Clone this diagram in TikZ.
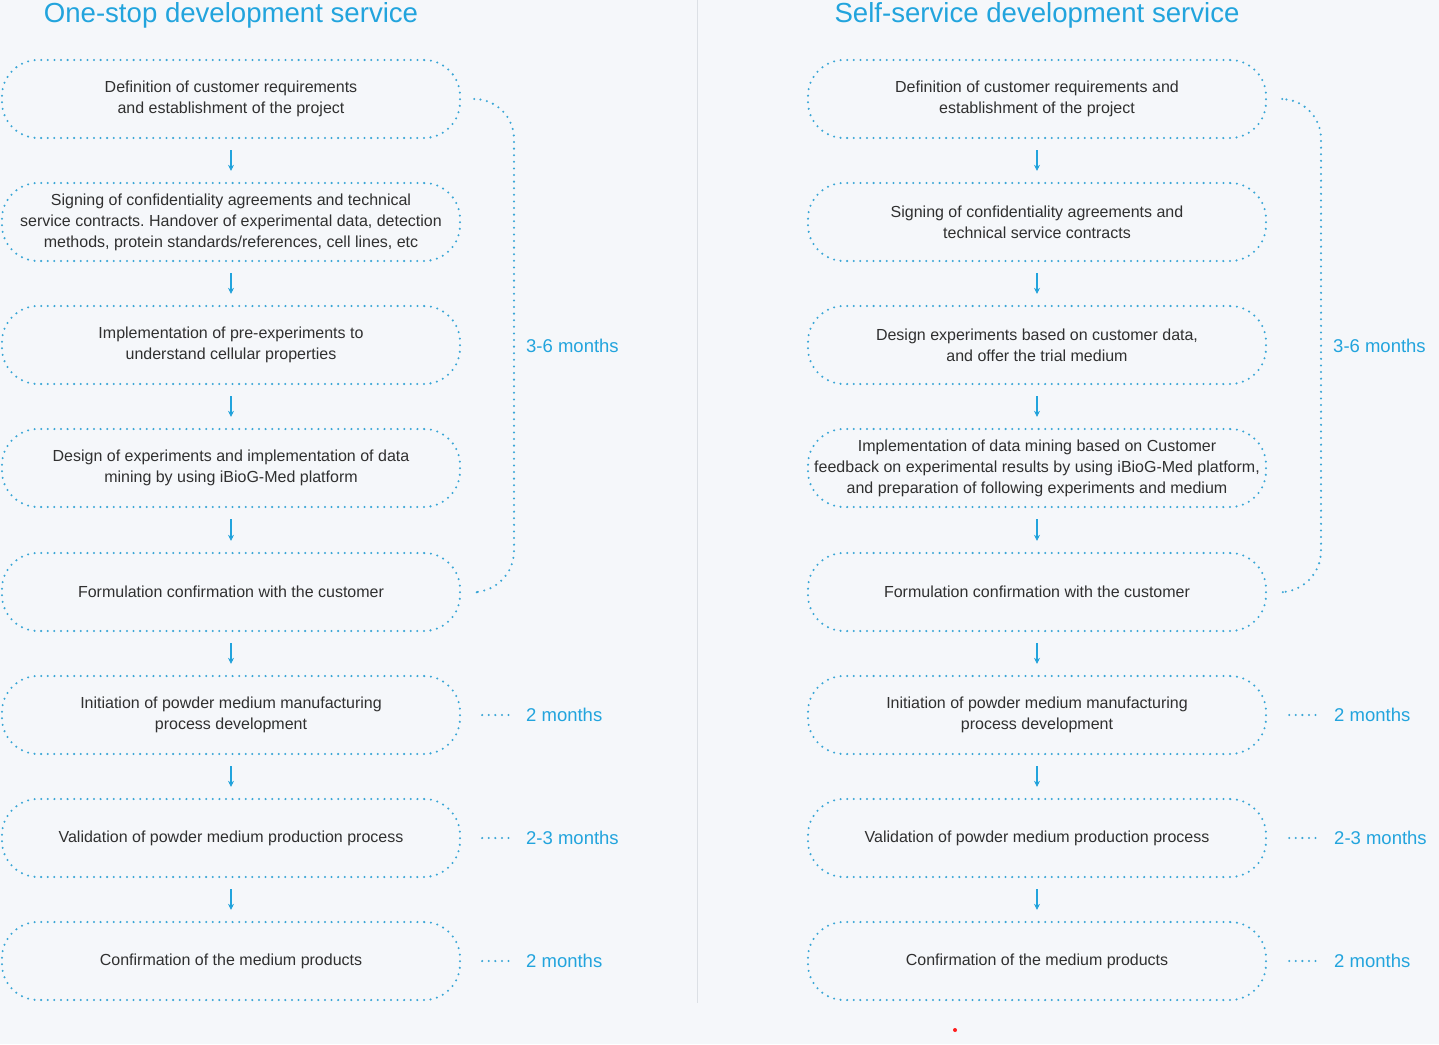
\documentclass[tikz,border=0pt]{standalone}
\usepackage{fontspec}
\setmainfont{Liberation Sans}
\usetikzlibrary{arrows.meta}
\definecolor{skyblue}{HTML}{22A4DD}
\definecolor{dotblue}{HTML}{3AA6D6}
\definecolor{textgray}{HTML}{303030}
\definecolor{paper}{HTML}{F5F7FA}
\definecolor{rulegray}{HTML}{DCE0E5}
\frenchspacing

\begin{document}
\begin{tikzpicture}[x=1pt, y=-1pt,
  stage/.style={shape=rectangle, rounded corners=36pt, minimum width=458pt, minimum height=78pt,
    draw=dotblue, line width=2.3pt, dash pattern=on 0pt off 6.6pt, line cap=round,
    align=center, text=textgray, font=\fontsize{16}{21}\selectfont},
  heading/.style={text=skyblue, anchor=base, inner sep=0pt, font=\fontsize{27.6}{30}\selectfont},
  month/.style={text=skyblue, anchor=west, inner sep=0pt, font=\fontsize{18.5}{20}\selectfont},
  flowarrow/.style={draw=skyblue, line width=1.4pt, -{Stealth[length=6pt, width=6pt]}, shorten <=11pt, shorten >=11pt},
  dotrule/.style={draw=dotblue, line width=2.3pt, dash pattern=on 0pt off 6.6pt, line cap=round},
  bracket/.style={dotrule, rounded corners=40pt}]

\fill[paper] (0,0) rectangle (1439,1044);
\useasboundingbox (0,0) rectangle (1439,1044);

% left column
\node [heading] (h1) at (231,23) {One-stop development service};
\node [stage] (l1) at (231,99) {Definition of customer requirements\\and establishment of the project};
\node [stage] (l2) at (231,222) {Signing of confidentiality agreements and technical\\service contracts. Handover of experimental data, detection\\methods, protein standards/references, cell lines, etc};
\node [stage] (l3) at (231,345) {Implementation of pre-experiments to\\understand cellular properties};
\node [stage] (l4) at (231,468) {Design of experiments and implementation of data\\mining by using iBioG-Med platform};
\node [stage] (l5) at (231,592) {Formulation confirmation with the customer};
\node [stage] (l6) at (231,715) {Initiation of powder medium manufacturing\\process development};
\node [stage] (l7) at (231,838) {Validation of powder medium production process};
\node [stage] (l8) at (231,961) {Confirmation of the medium products};
\draw [flowarrow] (l1) edge (l2);
\draw [flowarrow] (l2) edge (l3);
\draw [flowarrow] (l3) edge (l4);
\draw [flowarrow] (l4) edge (l5);
\draw [flowarrow] (l5) edge (l6);
\draw [flowarrow] (l6) edge (l7);
\draw [flowarrow] (l7) edge (l8);
\node [month] (m1) at (526,346) {3-6 months};
\node [month] (m6) at (526,715) {2 months};
\node [month] (m7) at (526,838) {2-3 months};
\node [month] (m8) at (526,961) {2 months};
\draw [bracket] ([xshift=13pt]l1.east) -- (514,99) -- (514,591) -- ([xshift=21pt]l5.east);
\draw [dotrule] ([xshift=21pt]l6.east) -- ([xshift=-14pt]m6.west);
\draw [dotrule] ([xshift=21pt]l7.east) -- ([xshift=-14pt]m7.west);
\draw [dotrule] ([xshift=21pt]l8.east) -- ([xshift=-14pt]m8.west);

% divider
\draw [rulegray, line width=1pt] (697,0) -- (697,1003);

% right column
\node [heading] (h2) at (1037,23) {Self-service development service};
\node [stage] (r1) at (1037,99) {Definition of customer requirements and\\establishment of the project};
\node [stage] (r2) at (1037,222) {Signing of confidentiality agreements and\\technical service contracts};
\node [stage] (r3) at (1037,345) {Design experiments based on customer data,\\and offer the trial medium};
\node [stage] (r4) at (1037,468) {Implementation of data mining based on Customer\\feedback on experimental results by using iBioG-Med platform,\\and preparation of following experiments and medium};
\node [stage] (r5) at (1037,592) {Formulation confirmation with the customer};
\node [stage] (r6) at (1037,715) {Initiation of powder medium manufacturing\\process development};
\node [stage] (r7) at (1037,838) {Validation of powder medium production process};
\node [stage] (r8) at (1037,961) {Confirmation of the medium products};
\draw [flowarrow] (r1) edge (r2);
\draw [flowarrow] (r2) edge (r3);
\draw [flowarrow] (r3) edge (r4);
\draw [flowarrow] (r4) edge (r5);
\draw [flowarrow] (r5) edge (r6);
\draw [flowarrow] (r6) edge (r7);
\draw [flowarrow] (r7) edge (r8);
\node [month] (n1) at (1333,346) {3-6 months};
\node [month] (n6) at (1334,715) {2 months};
\node [month] (n7) at (1334,838) {2-3 months};
\node [month] (n8) at (1334,961) {2 months};
\draw [bracket] ([xshift=15pt]r1.east) -- (1321,99) -- (1321,591) -- ([xshift=21pt]r5.east);
\draw [dotrule] ([xshift=22pt]r6.east) -- ([xshift=-14pt]n6.west);
\draw [dotrule] ([xshift=22pt]r7.east) -- ([xshift=-14pt]n7.west);
\draw [dotrule] ([xshift=22pt]r8.east) -- ([xshift=-14pt]n8.west);

\fill [red!85!pink] (955,1030) circle (2);
\end{tikzpicture}
\end{document}
